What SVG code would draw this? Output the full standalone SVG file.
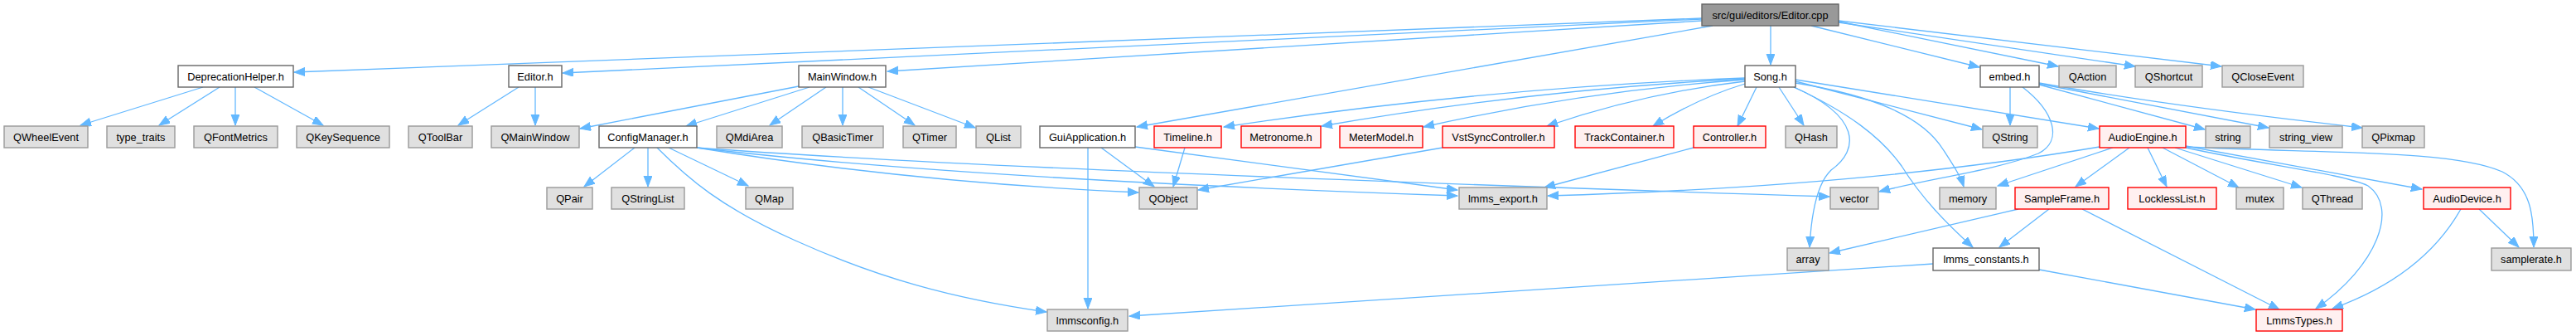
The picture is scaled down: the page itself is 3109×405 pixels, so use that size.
<svg xmlns="http://www.w3.org/2000/svg" width="3109" height="405" viewBox="0 0 3109 405">
<style>
text{font-family:"Liberation Sans",Arial,sans-serif;font-size:12.8px;text-anchor:middle;fill:#000}
.g rect{fill:#e0e0e0;stroke:#999999;stroke-width:1.4}
.w rect{fill:#ffffff;stroke:#666666;stroke-width:1.4}
.r rect{fill:#fff0f0;stroke:#ff0000;stroke-width:1.4}
.root rect{fill:#999999;stroke:#666666;stroke-width:1.4}
#edges path{fill:none;stroke:#63b8ff;stroke-width:1.3;marker-end:url(#a)}
</style>
<defs>
<marker id="a" markerUnits="userSpaceOnUse" markerWidth="14" markerHeight="11" refX="13" refY="5" orient="auto"><path d="M0,0L13,5L0,10z" fill="#63b8ff" stroke="#63b8ff" stroke-width="1"/></marker>
</defs>
<rect width="3109" height="405" fill="#fff"/>
<g id="edges">
<path d="M2054,22L355,87"/>
<path d="M2054,23L679,88"/>
<path d="M2054,25L1071,86"/>
<path d="M2067,31L1372,153"/>
<path d="M2137,31L2137,78"/>
<path d="M2186,31L2389,81"/>
<path d="M2219,26L2484,80"/>
<path d="M2219,27L2577,80"/>
<path d="M2219,25L2681,80"/>
<path d="M245,105L97,151"/>
<path d="M265,105L192,151"/>
<path d="M284,105L284,151"/>
<path d="M307,105L390,151"/>
<path d="M626,105L553,151"/>
<path d="M646,105L646,151"/>
<path d="M964,104L700,155"/>
<path d="M977,105L828,152"/>
<path d="M997,105L929,151"/>
<path d="M1017,105L1017,151"/>
<path d="M1036,105L1104,151"/>
<path d="M1048,105L1177,154"/>
<path d="M766,178L705,225"/>
<path d="M782,178L782,225"/>
<path d="M807,178L903,224"/>
<path d="M793,178C830,215 870,250 960,290C1060,335 1150,360 1263,376"/>
<path d="M841,178Q1100,220 1374,232"/>
<path d="M841,178Q1150,215 1759,236"/>
<path d="M841,178Q1200,205 2208,237"/>
<path d="M1329,178L1393,225"/>
<path d="M1313,178L1313,372"/>
<path d="M1370,177L1759,229"/>
<path d="M1430,178L1416,225"/>
<path d="M1741,178L1446,229"/>
<path d="M2044,178L1864,226"/>
<path d="M2106,94Q1790,106 1477,153"/>
<path d="M2106,95Q1850,108 1595,152"/>
<path d="M2106,96Q1910,110 1718,153"/>
<path d="M2106,98Q1985,112 1867,152"/>
<path d="M2106,101Q2050,118 1995,152"/>
<path d="M2120,105L2097,152"/>
<path d="M2147,105L2177,151"/>
<path d="M2165,105C2245,140 2245,180 2210,205C2192,222 2186,260 2184,298"/>
<path d="M2165,105C2230,135 2270,165 2295,200C2320,240 2350,270 2381,298"/>
<path d="M2167,100C2260,115 2320,140 2345,180C2358,200 2366,212 2370,225"/>
<path d="M2167,98L2392,156"/>
<path d="M2167,96L2533,155"/>
<path d="M2534,177Q2250,225 1868,236"/>
<path d="M2550,178L2411,224"/>
<path d="M2570,178L2505,225"/>
<path d="M2592,178L2615,225"/>
<path d="M2610,178L2702,226"/>
<path d="M2625,178L2778,226"/>
<path d="M2638,176L2923,228"/>
<path d="M2638,178C2740,200 2830,210 2858,224C2895,250 2870,320 2795,372"/>
<path d="M2638,177C2800,185 2960,180 3020,207C3055,225 3058,260 3058,298"/>
<path d="M2436,252L2208,305"/>
<path d="M2473,252L2413,298"/>
<path d="M2513,252L2751,373"/>
<path d="M2333,318L1363,381"/>
<path d="M2461,325L2722,373"/>
<path d="M2970,252C2940,305 2890,345 2815,372"/>
<path d="M2992,252L3040,298"/>
<path d="M2426,105L2426,151"/>
<path d="M2441,105C2480,135 2490,170 2460,185C2410,205 2330,215 2268,231"/>
<path d="M2461,102L2661,156"/>
<path d="M2461,101L2738,154"/>
<path d="M2461,100Q2620,128 2851,154"/>
</g>
<g id="n_root" class="root"><rect x="2054" y="5" width="165" height="26"/><text x="2136.5" y="22.6">src/gui/editors/Editor.cpp</text></g>
<g id="n_deprecationhelper" class="w"><rect x="215" y="79" width="139" height="26"/><text x="284.5" y="96.6">DeprecationHelper.h</text></g>
<g id="n_editor" class="w"><rect x="614" y="79" width="64" height="26"/><text x="646" y="96.6">Editor.h</text></g>
<g id="n_mainwindow" class="w"><rect x="964" y="79" width="105" height="26"/><text x="1016.5" y="96.6">MainWindow.h</text></g>
<g id="n_song" class="w"><rect x="2106" y="79" width="61" height="26"/><text x="2136.5" y="96.6">Song.h</text></g>
<g id="n_embed" class="w"><rect x="2390" y="79" width="71" height="26"/><text x="2425.5" y="96.6">embed.h</text></g>
<g id="n_qaction" class="g"><rect x="2485" y="79" width="69" height="26"/><text x="2519.5" y="96.6">QAction</text></g>
<g id="n_qshortcut" class="g"><rect x="2577" y="79" width="81" height="26"/><text x="2617.5" y="96.6">QShortcut</text></g>
<g id="n_qcloseevent" class="g"><rect x="2682" y="79" width="98" height="26"/><text x="2731" y="96.6">QCloseEvent</text></g>
<g id="n_qwheelevent" class="g"><rect x="5" y="152" width="101" height="26"/><text x="55.5" y="169.6">QWheelEvent</text></g>
<g id="n_type_traits" class="g"><rect x="129" y="152" width="82" height="26"/><text x="170" y="169.6">type_traits</text></g>
<g id="n_qfontmetrics" class="g"><rect x="234" y="152" width="101" height="26"/><text x="284.5" y="169.6">QFontMetrics</text></g>
<g id="n_qkeysequence" class="g"><rect x="358" y="152" width="112" height="26"/><text x="414" y="169.6">QKeySequence</text></g>
<g id="n_qtoolbar" class="g"><rect x="493" y="152" width="77" height="26"/><text x="531.5" y="169.6">QToolBar</text></g>
<g id="n_qmainwindow" class="g"><rect x="593" y="152" width="106" height="26"/><text x="646" y="169.6">QMainWindow</text></g>
<g id="n_configmanager" class="w"><rect x="723" y="152" width="118" height="26"/><text x="782" y="169.6">ConfigManager.h</text></g>
<g id="n_qmdiarea" class="g"><rect x="865" y="152" width="79" height="26"/><text x="904.5" y="169.6">QMdiArea</text></g>
<g id="n_qbasictimer" class="g"><rect x="968" y="152" width="98" height="26"/><text x="1017" y="169.6">QBasicTimer</text></g>
<g id="n_qtimer" class="g"><rect x="1090" y="152" width="64" height="26"/><text x="1122" y="169.6">QTimer</text></g>
<g id="n_qlist" class="g"><rect x="1178" y="152" width="54" height="26"/><text x="1205" y="169.6">QList</text></g>
<g id="n_guiapplication" class="w"><rect x="1255" y="152" width="115" height="26"/><text x="1312.5" y="169.6">GuiApplication.h</text></g>
<g id="n_timeline" class="r"><rect x="1393" y="152" width="81" height="26"/><text x="1433.5" y="169.6">Timeline.h</text></g>
<g id="n_metronome" class="r"><rect x="1498" y="152" width="96" height="26"/><text x="1546" y="169.6">Metronome.h</text></g>
<g id="n_metermodel" class="r"><rect x="1617" y="152" width="100" height="26"/><text x="1667" y="169.6">MeterModel.h</text></g>
<g id="n_vstsynccontroller" class="r"><rect x="1741" y="152" width="135" height="26"/><text x="1808.5" y="169.6">VstSyncController.h</text></g>
<g id="n_trackcontainer" class="r"><rect x="1901" y="152" width="119" height="26"/><text x="1960.5" y="169.6">TrackContainer.h</text></g>
<g id="n_controller" class="r"><rect x="2044" y="152" width="87" height="26"/><text x="2087.5" y="169.6">Controller.h</text></g>
<g id="n_qhash" class="g"><rect x="2155" y="152" width="62" height="26"/><text x="2186" y="169.6">QHash</text></g>
<g id="n_qstring" class="g"><rect x="2393" y="152" width="66" height="26"/><text x="2426" y="169.6">QString</text></g>
<g id="n_audioengine" class="r"><rect x="2534" y="152" width="104" height="26"/><text x="2586" y="169.6">AudioEngine.h</text></g>
<g id="n_string" class="g"><rect x="2662" y="152" width="54" height="26"/><text x="2689" y="169.6">string</text></g>
<g id="n_string_view" class="g"><rect x="2739" y="152" width="88" height="26"/><text x="2783" y="169.6">string_view</text></g>
<g id="n_qpixmap" class="g"><rect x="2851" y="152" width="75" height="26"/><text x="2888.5" y="169.6">QPixmap</text></g>
<g id="n_qpair" class="g"><rect x="660" y="226" width="55" height="26"/><text x="687.5" y="243.6">QPair</text></g>
<g id="n_qstringlist" class="g"><rect x="738" y="226" width="88" height="26"/><text x="782" y="243.6">QStringList</text></g>
<g id="n_qmap" class="g"><rect x="900" y="226" width="57" height="26"/><text x="928.5" y="243.6">QMap</text></g>
<g id="n_qobject" class="g"><rect x="1375" y="226" width="70" height="26"/><text x="1410" y="243.6">QObject</text></g>
<g id="n_lmms_export" class="g"><rect x="1761" y="226" width="106" height="26"/><text x="1814" y="243.6">lmms_export.h</text></g>
<g id="n_vector" class="g"><rect x="2209" y="226" width="58" height="26"/><text x="2238" y="243.6">vector</text></g>
<g id="n_memory" class="g"><rect x="2341" y="226" width="68" height="26"/><text x="2375" y="243.6">memory</text></g>
<g id="n_sampleframe" class="r"><rect x="2432" y="226" width="113" height="26"/><text x="2488.5" y="243.6">SampleFrame.h</text></g>
<g id="n_locklesslist" class="r"><rect x="2568" y="226" width="107" height="26"/><text x="2621.5" y="243.6">LocklessList.h</text></g>
<g id="n_mutex" class="g"><rect x="2699" y="226" width="57" height="26"/><text x="2727.5" y="243.6">mutex</text></g>
<g id="n_qthread" class="g"><rect x="2779" y="226" width="72" height="26"/><text x="2815" y="243.6">QThread</text></g>
<g id="n_audiodevice" class="r"><rect x="2925" y="226" width="105" height="26"/><text x="2977.5" y="243.6">AudioDevice.h</text></g>
<g id="n_array" class="g"><rect x="2157" y="299" width="50" height="27"/><text x="2182" y="317">array</text></g>
<g id="n_lmms_constants" class="w"><rect x="2333" y="299" width="128" height="27"/><text x="2397" y="317">lmms_constants.h</text></g>
<g id="n_samplerate" class="g"><rect x="3007" y="299" width="96" height="27"/><text x="3055" y="317">samplerate.h</text></g>
<g id="n_lmmsconfig" class="g"><rect x="1264" y="373" width="97" height="26"/><text x="1312.5" y="390.6">lmmsconfig.h</text></g>
<g id="n_lmmstypes" class="r"><rect x="2723" y="373" width="104" height="26"/><text x="2775" y="390.6">LmmsTypes.h</text></g>
</svg>
